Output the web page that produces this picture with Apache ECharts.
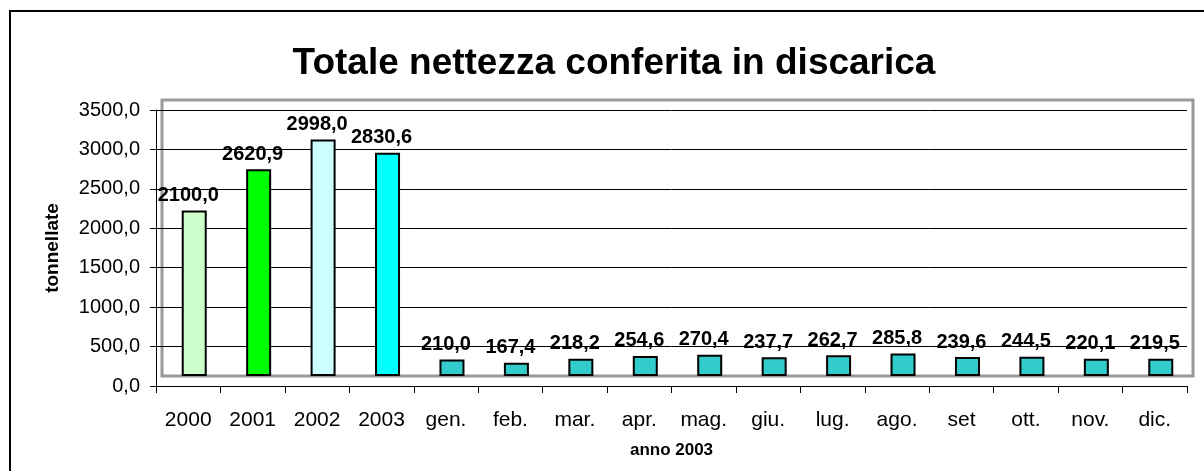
<!DOCTYPE html>
<html>
<head>
<meta charset="utf-8">
<script src="https://cdn.jsdelivr.net/npm/echarts@6/dist/echarts.min.js"></script>
<style>
html,body{margin:0;padding:0;background:#fff;}
#chart{width:1204px;height:471px;}
</style>
</head>
<body>
<div id="chart"></div>
<script>
const categories = ['2000','2001','2002','2003','gen.','feb.','mar.','apr.','mag.','giu.','lug.','ago.','set','ott.','nov.','dic.'];
const values = [2100.0, 2620.9, 2998.0, 2830.6, 210.0, 167.4, 218.2, 254.6, 270.4, 237.7, 262.7, 285.8, 239.6, 244.5, 220.1, 219.5];
const barColors = ['#CCFFCC','#00FF00','#CCFFFF','#00FFFF','#33CCCC','#33CCCC','#33CCCC','#33CCCC','#33CCCC','#33CCCC','#33CCCC','#33CCCC','#33CCCC','#33CCCC','#33CCCC','#33CCCC'];
const titleText = 'Totale nettezza conferita in discarica';
const yName = 'tonnellate';
const xName = 'anno 2003';

const FONT = '"Liberation Sans", Arial, sans-serif';
const fmt = v => Number(v).toFixed(1).replace('.', ',');

const chart = echarts.init(document.getElementById('chart'), null, {renderer:'canvas'});
chart.setOption({
  backgroundColor: '#ffffff',
  animation: false,
  title: {
    text: titleText,
    left: 609, top: 40, textAlign: 'center',
    textStyle: {fontFamily: FONT, fontSize: 37, fontWeight: 'bold', color: '#000'}
  },
  graphic: [{
    type: 'rect', z: 100,
    shape: {x: 10, y: 11, width: 1400, height: 600},
    style: {fill: 'none', stroke: '#000', lineWidth: 2}
  }],
  grid: [
    {left: 156, top: 110, width: 1031, height: 276},
    {left: 162, top: 100, width: 1031, height: 276, show: true, borderColor: '#999', borderWidth: 3, backgroundColor: 'transparent'}
  ],
  xAxis: [
    {
      type: 'category', gridIndex: 0, data: categories,
      axisLine: {show: true, lineStyle: {color: '#000', width: 1}},
      axisTick: {show: true, alignWithLabel: false, length: 7, lineStyle: {color: '#000'}},
      axisLabel: {fontFamily: FONT, fontSize: 21, color: '#000', margin: 24, interval: 0},
      name: xName, nameLocation: 'middle', nameGap: 56,
      nameTextStyle: {fontFamily: FONT, fontSize: 17, fontWeight: 'bold', color: '#000'}
    },
    {
      type: 'category', gridIndex: 1, data: categories, show: false
    }
  ],
  yAxis: [
    {
      type: 'value', gridIndex: 0, min: 0, max: 3500, interval: 500,
      axisLine: {show: true, lineStyle: {color: '#000', width: 1}},
      axisTick: {show: true, length: 6, lineStyle: {color: '#000'}},
      axisLabel: {fontFamily: FONT, fontSize: 20, color: '#000', margin: 16, formatter: fmt},
      splitLine: {show: true, lineStyle: {color: '#000', width: 1}},
      name: yName, nameLocation: 'middle', nameGap: 94, nameRotate: 90,
      nameTextStyle: {fontFamily: FONT, fontSize: 19, fontWeight: 'bold', color: '#000'}
    },
    {
      type: 'value', gridIndex: 1, min: 0, max: 3500, show: false, splitLine: {show: false}
    }
  ],
  series: [{
    type: 'bar', xAxisIndex: 1, yAxisIndex: 1,
    barWidth: 25,
    data: values.map((v, i) => ({value: v, itemStyle: {color: barColors[i]}})),
    itemStyle: {borderColor: '#000', borderWidth: 2},
    label: {
      show: true, position: 'top', distance: 5, offset: [-6, 0],
      fontFamily: FONT, fontSize: 20, fontWeight: 'bold', color: '#000',
      formatter: p => fmt(p.value)
    }
  }]
});
</script>
</body>
</html>
